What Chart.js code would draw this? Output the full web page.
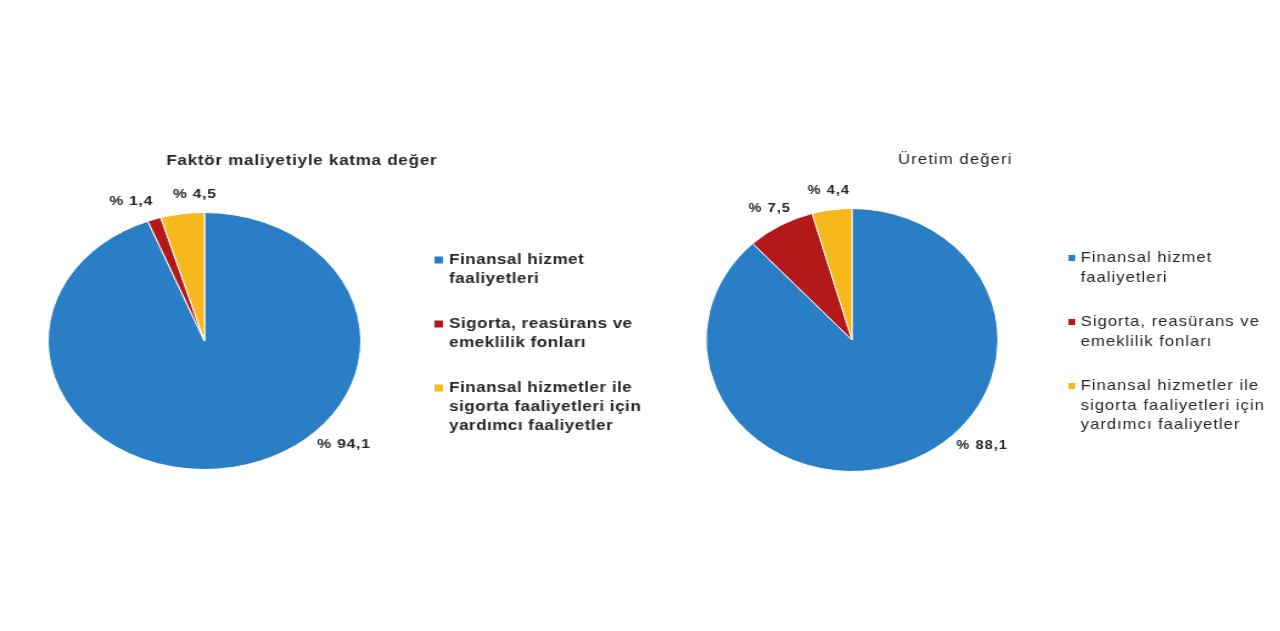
<!DOCTYPE html>
<html>
<head>
<meta charset="utf-8">
<script src="https://cdn.jsdelivr.net/npm/chart.js@4/dist/chart.umd.min.js"></script>
<style>
    html, body { margin: 0; padding: 0; background: #ffffff; }
    body { width: 1280px; height: 631px; position: relative; overflow: hidden; }
    .pie-box { position: absolute; top: 0; transform-origin: 0 0; }
    #leftBox { left: 0; transform: scaleX(1.217); }
    #rightBox { left: 640px; transform: scaleX(1.11); }
</style>
</head>
<body>
<div class="pie-box" id="leftBox"><canvas id="katmaChart" width="560" height="631"></canvas></div>
<div class="pie-box" id="rightBox"><canvas id="uretimChart" width="577" height="631"></canvas></div>
<script>
var categories = [
    ['Finansal hizmet', 'faaliyetleri'],
    ['Sigorta, reasürans ve', 'emeklilik fonları'],
    ['Finansal hizmetler ile', 'sigorta faaliyetleri için', 'yardımcı faaliyetler']
];
var katmaDegerShares = [94.1, 1.4, 4.5];
var uretimDegeriShares = [88.1, 7.5, 4.4];
var chartTitles = ['Faktör maliyetiyle katma değer', 'Üretim değeri'];

(function () {
    var sliceColors = ['#2a7ec6', '#b3191b', '#f6b81d'];

    function formatShare(value) {
        return '% ' + value.toFixed(1).replace('.', ',');
    }

    var pieTextPlugin = {
        id: 'pieText',
        afterDraw: function (chart, args, opts) {
            var ctx = chart.ctx;
            var meta = chart.getDatasetMeta(0);
            var values = chart.data.datasets[0].data;
            var colors = chart.data.datasets[0].backgroundColor;
            var total = values.reduce(function (a, b) { return a + b; }, 0);

            ctx.save();
            ctx.fillStyle = '#262626';
            ctx.letterSpacing = opts.spacing + 'px';
            ctx.textAlign = 'center';
            ctx.textBaseline = 'middle';

            // title
            ctx.font = opts.titleFont;
            ctx.fillText(opts.title, opts.titleX, opts.titleY);

            // percentage labels outside the slices
            ctx.font = opts.labelFont;
            var spots = meta.data.map(function (arc, i) {
                var share = values[i] / total;
                var big = share > 0.5;
                var angle = big ? 42 * Math.PI / 180 : (arc.startAngle + arc.endAngle) / 2;
                var factor = big ? 1.2 : 1.15;
                var text = formatShare(values[i]);
                return {
                    text: text,
                    x: arc.x + Math.cos(angle) * arc.outerRadius * factor,
                    y: arc.y + Math.sin(angle) * arc.outerRadius * factor,
                    w: ctx.measureText(text).width,
                    small: !big
                };
            });
            for (var i = 1; i < spots.length; i++) {
                var a = spots[i - 1];
                var b = spots[i];
                if (!a.small || !b.small || Math.abs(a.y - b.y) > 16) {
                    continue;
                }
                var need = (a.w + b.w) / 2 + 16;
                var d = b.x - a.x;
                if (Math.abs(d) < need) {
                    var shift = (need - Math.abs(d)) / 2;
                    var sign = d >= 0 ? 1 : -1;
                    a.x -= sign * shift;
                    b.x += sign * shift;
                }
            }
            spots.forEach(function (s) {
                ctx.fillText(s.text, s.x, s.y);
            });

            // legend
            ctx.font = opts.legendFont;
            ctx.letterSpacing = opts.legendSpacing + 'px';
            ctx.textAlign = 'left';
            chart.data.labels.forEach(function (lines, i) {
                var y = opts.legendY + i * opts.itemSpacing;
                ctx.fillStyle = colors[i];
                ctx.fillRect(opts.legendX, y - opts.boxSize / 2, opts.boxSize, opts.boxSize);
                ctx.fillStyle = '#262626';
                lines.forEach(function (line, j) {
                    ctx.fillText(line, opts.legendX + opts.boxSize + 5, y + j * opts.lineHeight);
                });
            });
            ctx.restore();
        }
    };

    function drawPie(canvasId, values, title, layout) {
        var canvas = document.getElementById(canvasId);
        if (!canvas || !window.Chart) {
            return;
        }

        new Chart(canvas, {
            type: 'pie',
            data: {
                labels: categories,
                datasets: [
                    {
                        data: values,
                        backgroundColor: sliceColors,
                        borderColor: '#ffffff',
                        borderWidth: 1
                    }
                ]
            },
            options: {
                responsive: false,
                animation: false,
                devicePixelRatio: 1,
                layout: {
                    padding: layout.padding
                },
                plugins: {
                    legend: { display: false },
                    tooltip: { enabled: false },
                    pieText: Object.assign({ title: title }, layout.text)
                }
            },
            plugins: [pieTextPlugin]
        });
    }

    drawPie('katmaChart', katmaDegerShares, chartTitles[0], {
        padding: { left: 39, right: 263, top: 212, bottom: 161 },
        text: {
            spacing: 0.6,
            legendSpacing: 0.4,
            titleFont: 'bold 14px "Liberation Sans", Arial, sans-serif',
            labelFont: 'bold 13px "Liberation Sans", Arial, sans-serif',
            legendFont: 'bold 14px "Liberation Sans", Arial, sans-serif',
            titleX: 248,
            titleY: 161,
            legendX: 357,
            legendY: 260,
            itemSpacing: 64,
            lineHeight: 19,
            boxSize: 7
        }
    });

    drawPie('uretimChart', uretimDegeriShares, chartTitles[1], {
        padding: { left: 59, right: 254, top: 208, bottom: 159 },
        text: {
            spacing: 1,
            legendSpacing: 0.9,
            titleFont: '15px "Liberation Sans", Arial, sans-serif',
            labelFont: 'bold 13px "Liberation Sans", Arial, sans-serif',
            legendFont: '15px "Liberation Sans", Arial, sans-serif',
            titleX: 284,
            titleY: 160,
            legendX: 386,
            legendY: 258,
            itemSpacing: 64,
            lineHeight: 19.5,
            boxSize: 6
        }
    });
})();
</script>
</body>
</html>
